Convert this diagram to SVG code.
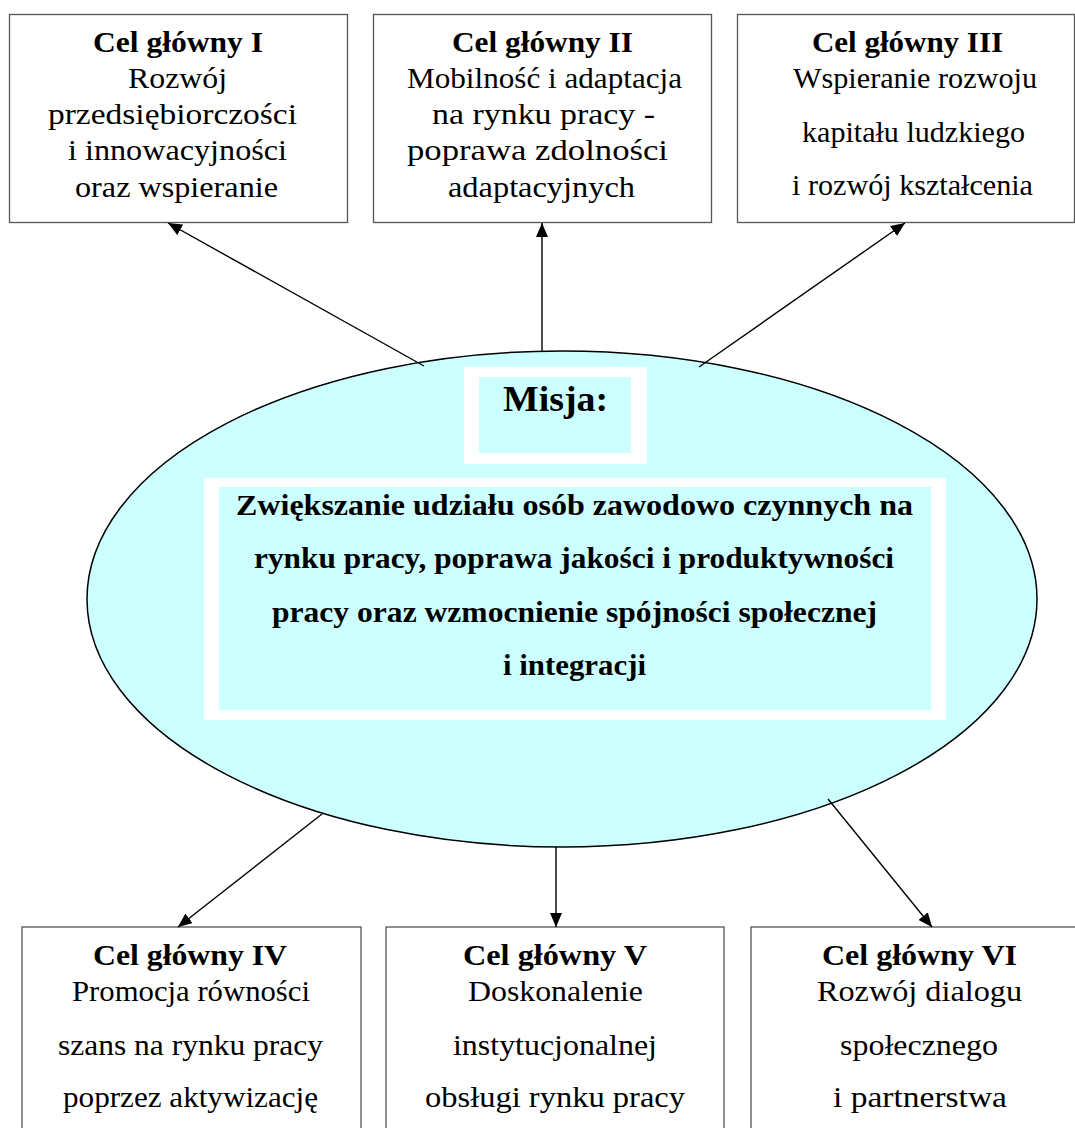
<svg xmlns="http://www.w3.org/2000/svg" width="1075" height="1128" viewBox="0 0 1075 1128">
<defs>
<style>
.box{fill:#fff;stroke:#555;stroke-width:1.3}
.t{font-family:"Liberation Serif","Times New Roman",serif;font-size:30px;fill:#000}
.b{font-weight:bold}
.m{font-size:36px}
.conn{stroke:#000;stroke-width:1.4;fill:none;marker-end:url(#ah)}
.cyan{fill:#ccffff}
.white{fill:#fff}
</style>
<marker id="ah" markerUnits="userSpaceOnUse" markerWidth="14" markerHeight="12" viewBox="0 0 14 12" refX="14" refY="6" orient="auto">
<path d="M0,0 L14,6 L0,12 z" fill="#000"/>
</marker>
</defs>
<rect width="1075" height="1128" fill="#fff"/>

<g id="mission">
<ellipse cx="562" cy="599" rx="475" ry="248" class="cyan" stroke="#000" stroke-width="1.5"/>
<rect x="464" y="367" width="183" height="97" class="white"/>
<rect x="479" y="377" width="152" height="76" class="cyan"/>
<text class="t b m" x="503" y="411" textLength="105" lengthAdjust="spacingAndGlyphs">Misja:</text>
<rect x="204" y="478" width="742" height="242" class="white"/>
<rect x="219" y="487" width="712" height="223" class="cyan"/>
<text class="t b" x="236" y="515" textLength="677" lengthAdjust="spacingAndGlyphs">Zwiększanie udziału osób zawodowo czynnych na</text>
<text class="t b" x="254" y="568" textLength="640" lengthAdjust="spacingAndGlyphs">rynku pracy, poprawa jakości i produktywności</text>
<text class="t b" x="272" y="622" textLength="605" lengthAdjust="spacingAndGlyphs">pracy oraz wzmocnienie spójności społecznej</text>
<text class="t b" x="503" y="675" textLength="143" lengthAdjust="spacingAndGlyphs">i integracji</text>
</g>

<g id="goal1">
<rect x="9.5" y="14.5" width="338" height="208" class="box"/>
<text class="t b" x="93" y="52" textLength="170" lengthAdjust="spacingAndGlyphs">Cel główny I</text>
<text class="t" x="128" y="88" textLength="99" lengthAdjust="spacingAndGlyphs">Rozwój</text>
<text class="t" x="48" y="124" textLength="249" lengthAdjust="spacingAndGlyphs">przedsiębiorczości</text>
<text class="t" x="68" y="160" textLength="219" lengthAdjust="spacingAndGlyphs">i innowacyjności</text>
<text class="t" x="75" y="197" textLength="203" lengthAdjust="spacingAndGlyphs">oraz wspieranie</text>
</g>

<g id="goal2">
<rect x="373.5" y="14.5" width="338" height="208" class="box"/>
<text class="t b" x="452" y="52" textLength="181" lengthAdjust="spacingAndGlyphs">Cel główny II</text>
<text class="t" x="407" y="88" textLength="275" lengthAdjust="spacingAndGlyphs">Mobilność i adaptacja</text>
<text class="t" x="432" y="124" textLength="223" lengthAdjust="spacingAndGlyphs">na rynku pracy -</text>
<text class="t" x="407" y="160" textLength="261" lengthAdjust="spacingAndGlyphs">poprawa zdolności</text>
<text class="t" x="448" y="197" textLength="187" lengthAdjust="spacingAndGlyphs">adaptacyjnych</text>
</g>

<g id="goal3">
<rect x="737.5" y="14.5" width="337" height="208" class="box"/>
<text class="t b" x="812" y="52" textLength="191" lengthAdjust="spacingAndGlyphs">Cel główny III</text>
<text class="t" x="793" y="88" textLength="244" lengthAdjust="spacingAndGlyphs">Wspieranie rozwoju</text>
<text class="t" x="802" y="142" textLength="223" lengthAdjust="spacingAndGlyphs">kapitału ludzkiego</text>
<text class="t" x="792" y="195" textLength="241" lengthAdjust="spacingAndGlyphs">i rozwój kształcenia</text>
</g>

<g id="goal4">
<rect x="22" y="927" width="339" height="220" class="box"/>
<text class="t b" x="93" y="965" textLength="194" lengthAdjust="spacingAndGlyphs">Cel główny IV</text>
<text class="t" x="72" y="1001" textLength="238" lengthAdjust="spacingAndGlyphs">Promocja równości</text>
<text class="t" x="58" y="1055" textLength="265" lengthAdjust="spacingAndGlyphs">szans na rynku pracy</text>
<text class="t" x="63" y="1107" textLength="255" lengthAdjust="spacingAndGlyphs">poprzez aktywizację</text>
</g>

<g id="goal5">
<rect x="386" y="927" width="338" height="220" class="box"/>
<text class="t b" x="463" y="965" textLength="184" lengthAdjust="spacingAndGlyphs">Cel główny V</text>
<text class="t" x="468" y="1001" textLength="175" lengthAdjust="spacingAndGlyphs">Doskonalenie</text>
<text class="t" x="453" y="1055" textLength="204" lengthAdjust="spacingAndGlyphs">instytucjonalnej</text>
<text class="t" x="425" y="1107" textLength="260" lengthAdjust="spacingAndGlyphs">obsługi rynku pracy</text>
</g>

<g id="goal6">
<rect x="751" y="927" width="340" height="220" class="box"/>
<text class="t b" x="822" y="965" textLength="195" lengthAdjust="spacingAndGlyphs">Cel główny VI</text>
<text class="t" x="817" y="1001" textLength="205" lengthAdjust="spacingAndGlyphs">Rozwój dialogu</text>
<text class="t" x="840" y="1055" textLength="158" lengthAdjust="spacingAndGlyphs">społecznego</text>
<text class="t" x="833" y="1107" textLength="174" lengthAdjust="spacingAndGlyphs">i partnerstwa</text>
</g>

<g id="connectors">
<line class="conn" x1="424" y1="366" x2="168" y2="223"/>
<line class="conn" x1="542" y1="351" x2="542" y2="223"/>
<line class="conn" x1="699" y1="367" x2="905" y2="223"/>
<line class="conn" x1="322" y1="814" x2="178" y2="927"/>
<line class="conn" x1="556" y1="847" x2="556" y2="927"/>
<line class="conn" x1="828" y1="799" x2="932" y2="927"/>
</g>
</svg>
